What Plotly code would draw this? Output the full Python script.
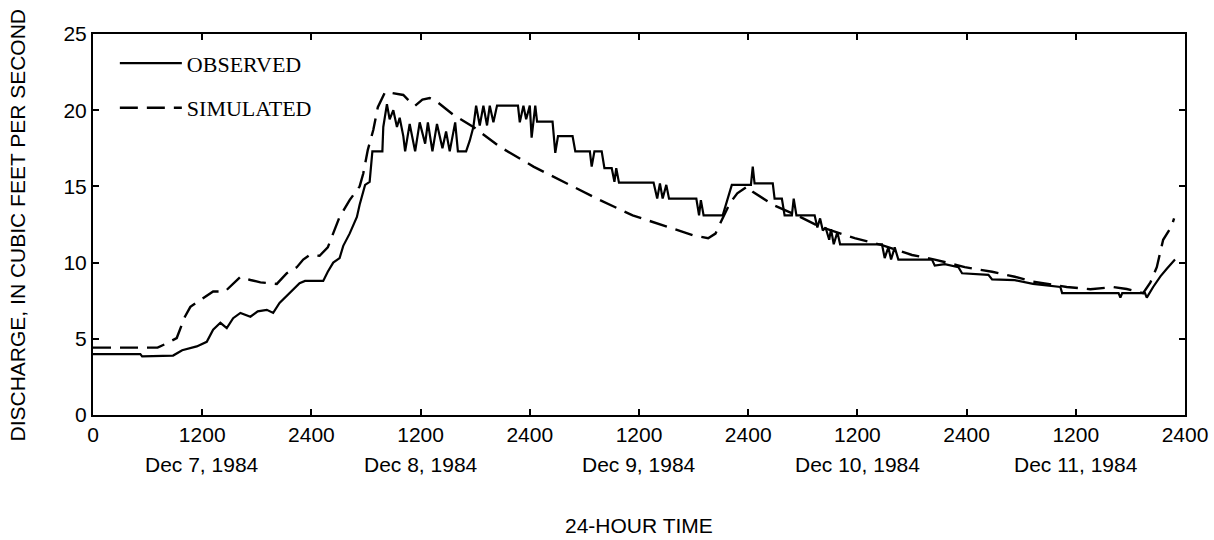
import plotly.graph_objects as go

# ---- data (hours from midnight Dec 7, 1984; discharge in ft3/s) ----
obs_hours = [0, 5.2, 5.4, 8.8, 9.8, 11.4, 12.5, 13.2, 14.0, 14.7, 15.4, 16.2, 17.3, 18.1, 19.1, 19.8,
             20.5, 21.6, 22.7, 23.3, 25.3, 25.8, 26.4, 27.1, 27.5, 28.2, 29.0, 29.3, 29.9, 30.4, 30.7,
             31.8, 31.9, 32.3, 32.6, 33.0, 33.4, 33.7, 34.1, 34.3, 34.8, 35.4, 35.9, 36.5, 36.8, 37.3,
             37.8, 38.4, 38.8, 39.2, 39.8, 40.1, 41.0, 41.4, 41.8, 42.1, 42.5, 42.9, 43.3, 43.6, 44.0,
             44.4, 46.7, 46.9, 47.3, 47.6, 48.0, 48.2, 48.6, 48.8, 50.5, 50.8, 51.1, 52.7, 53.0, 54.6,
             54.8, 55.1, 55.9, 56.2, 57.0, 57.3, 57.5, 57.8, 61.6, 62.0, 62.3, 62.6, 63.0, 63.3, 66.3,
             66.6, 66.8, 67.1, 69.2, 69.7, 70.2, 72.3, 72.5, 72.7, 74.7, 74.9, 75.7, 76.0, 76.8, 77.0,
             77.3, 79.3, 79.6, 79.9, 80.2, 80.5, 80.9, 81.1, 81.4, 81.8, 82.1, 86.7, 87.0, 87.4, 87.7,
             88.1, 88.5, 92.2, 92.5, 93.6, 95.1, 95.5, 98.4, 98.8, 101.3, 103.3, 106.3, 106.5, 112.7,
             112.9, 113.1, 115.6, 115.8, 116.5, 117.3, 118.0, 118.9]
obs_values = [4.0, 4.0, 3.85, 3.9, 4.25, 4.5, 4.8, 5.6, 6.05, 5.7, 6.35, 6.7, 6.45, 6.8, 6.9, 6.7,
              7.35, 8.0, 8.65, 8.8, 8.8, 9.4, 10.0, 10.3, 11.1, 11.9, 13.0, 13.8, 15.1, 15.3, 17.3,
              17.3, 18.9, 20.4, 19.4, 20.0, 18.9, 19.5, 18.3, 17.3, 19.1, 17.3, 19.2, 17.8, 19.2, 17.3,
              19.1, 17.5, 18.6, 17.3, 19.2, 17.3, 17.3, 18.0, 18.9, 20.3, 19.0, 20.3, 19.0, 20.3, 19.2,
              20.3, 20.3, 19.2, 20.3, 19.4, 20.3, 18.2, 20.3, 19.25, 19.25, 17.2, 18.3, 18.3, 17.3, 17.3,
              16.3, 17.3, 17.3, 16.2, 16.2, 15.3, 16.2, 15.25, 15.25, 14.2, 15.2, 14.2, 15.1, 14.2, 14.2,
              13.1, 14.1, 13.1, 13.1, 14.1, 15.1, 15.1, 16.3, 15.2, 15.2, 14.2, 14.2, 13.1, 13.1, 14.2,
              13.1, 13.1, 12.3, 12.9, 12.1, 12.3, 11.5, 12.2, 11.2, 12.0, 11.2, 11.2, 10.3, 11.0, 10.2,
              11.0, 10.2, 10.2, 9.8, 9.9, 9.7, 9.3, 9.2, 8.9, 8.85, 8.6, 8.4, 8.0, 8.0,
              7.7, 8.0, 8.0, 7.7, 8.4, 9.1, 9.6, 10.2]

sim_hours = [0, 7.1, 8.1, 9.2, 10.1, 10.7, 11.8, 13.2, 14.5, 15.4, 16.2, 17.3, 18.4, 20.2, 21.3,
             22.4, 23.1, 23.8, 24.9, 25.8, 26.4, 27.1, 28.2, 29.3, 29.7, 30.2, 30.8, 31.3, 32.1,
             33.0, 34.1, 35.1, 35.4, 36.2, 37.0, 37.8, 39.6, 41.8, 44.7, 48.4, 52.1, 55.7, 59.3,
             63.1, 65.9, 67.6, 68.4, 69.1, 70.0, 70.8, 71.9, 72.5, 74.7, 77.7, 79.9, 83.7, 86.7,
             90.0, 92.5, 95.8, 98.8, 101.3, 103.3, 107.0, 109.6, 112.1, 113.6, 115.4, 116.2, 116.9,
             117.6, 118.5, 118.8]
sim_values = [4.42, 4.42, 4.7, 5.05, 6.45, 7.1, 7.55, 8.1, 8.1, 8.65, 9.07, 8.86, 8.7, 8.6, 9.3,
              9.7, 10.2, 10.5, 10.45, 11.0, 11.9, 13.0, 14.1, 15.0, 15.85, 17.4, 18.7, 20.2, 21.2,
              21.1, 21.0, 20.4, 20.3, 20.7, 20.8, 20.55, 19.7, 18.9, 17.6, 16.3, 15.2, 14.1, 13.1,
              12.35, 11.8, 11.6, 11.9, 12.8, 13.9, 14.55, 15.0, 14.65, 13.8, 13.0, 12.35, 11.6, 11.15,
              10.5, 10.2, 9.7, 9.4, 9.07, 8.75, 8.4, 8.25, 8.4, 8.27, 8.0, 8.7, 9.7,
              11.5, 12.35, 12.9]

tick_hours = [0, 12, 24, 36, 48, 60, 72, 84, 96, 108, 120]
tick_labels = ["0", "1200", "2400", "1200", "2400", "1200", "2400", "1200", "2400", "1200", "2400"]
day_centers = [12, 36, 60, 84, 108]
day_labels = ["Dec 7, 1984", "Dec 8, 1984", "Dec 9, 1984", "Dec 10, 1984", "Dec 11, 1984"]
y_ticks = [0, 5, 10, 15, 20, 25]

SANS = "Liberation Sans, Arial, sans-serif"
SERIF = "Liberation Serif, Times New Roman, serif"
FS = 21

fig = go.Figure()
fig.add_trace(go.Scatter(x=obs_hours, y=obs_values, mode="lines", name="OBSERVED",
                         legendgroup="a", line=dict(color="black", width=2.2)))
fig.add_trace(go.Scatter(x=sim_hours, y=sim_values, mode="lines", name="SIMULATED",
                         legendgroup="b", line=dict(color="black", width=2.4, dash="18px,9px")))

for xc, lab in zip(day_centers, day_labels):
    fig.add_annotation(x=xc, y=-0.131, xref="x", yref="paper", text=lab, showarrow=False,
                       xanchor="center", yanchor="middle", font=dict(family=SANS, size=FS, color="black"))

fig.add_annotation(x=0.5, y=-0.289, xref="paper", yref="paper", text="24-HOUR TIME", showarrow=False,
                   xanchor="center", yanchor="middle", font=dict(family=SANS, size=FS, color="black"))
fig.add_annotation(x=-0.0687, y=0.5, xref="paper", yref="paper",
                   text="DISCHARGE, IN CUBIC FEET PER SECOND", textangle=-90, showarrow=False,
                   xanchor="center", yanchor="middle", font=dict(family=SANS, size=FS, color="black"))

axis_common = dict(showline=True, linewidth=2, linecolor="black", mirror="ticks", ticks="inside",
                   ticklen=6, tickwidth=2, tickcolor="black", showgrid=False, zeroline=False,
                   automargin=False, tickfont=dict(family=SANS, size=FS, color="black"))
fig.update_xaxes(range=[0, 120], tickmode="array", tickvals=tick_hours, ticktext=tick_labels,
                 **axis_common)
fig.update_yaxes(range=[0, 25], tickmode="array", tickvals=y_ticks, ticktext=[str(v) for v in y_ticks],
                 **axis_common)

fig.update_layout(
    width=1214, height=540,
    margin=dict(l=93, r=29, t=34, b=125),
    plot_bgcolor="white", paper_bgcolor="white",
    showlegend=True,
    legend=dict(x=0.02, y=0.978, xanchor="left", yanchor="top", bgcolor="rgba(0,0,0,0)",
                font=dict(family=SERIF, size=22, color="black"), itemwidth=62,
                tracegroupgap=13),
)

fig.write_html("out.html")
